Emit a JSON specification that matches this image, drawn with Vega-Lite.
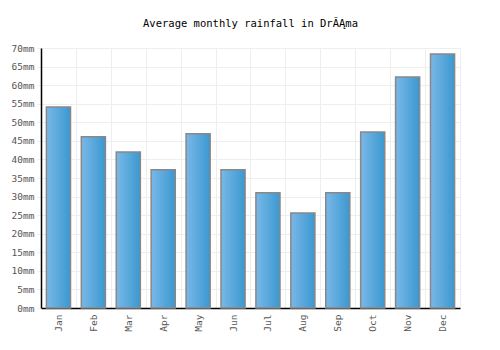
{
  "$schema": "https://vega.github.io/schema/vega-lite/v6.json",
  "width": 419,
  "height": 260,
  "autosize": {"type": "none"},
  "padding": {"left": 41, "top": 48, "right": 40, "bottom": 42},
  "background": "white",
  "title": {"text": "Average monthly rainfall in DrĂĄma", "font": "DejaVu Sans Mono", "fontSize": 10.5, "fontWeight": "normal", "color": "#000", "offset": 14},
  "data": {"values": [
    {"month": "Jan", "rain": 54.1},
    {"month": "Feb", "rain": 46.1},
    {"month": "Mar", "rain": 42.0},
    {"month": "Apr", "rain": 37.2},
    {"month": "May", "rain": 46.9},
    {"month": "Jun", "rain": 37.2},
    {"month": "Jul", "rain": 31.0},
    {"month": "Aug", "rain": 25.6},
    {"month": "Sep", "rain": 31.0},
    {"month": "Oct", "rain": 47.4},
    {"month": "Nov", "rain": 62.2},
    {"month": "Dec", "rain": 68.4}
  ]},
  "mark": {
    "type": "bar",
    "width": {"band": 0.69},
    "stroke": "#888888",
    "strokeWidth": 1.5,
    "fill": {"gradient": "linear", "x1": 0, "x2": 1, "y1": 0, "y2": 0, "stops": [
      {"offset": 0, "color": "#7ab8e8"},
      {"offset": 1, "color": "#3a98d0"}
    ]}
  },
  "encoding": {
    "x": {
      "field": "month", "type": "ordinal", "sort": null,
      "scale": {"paddingInner": 0, "paddingOuter": 0},
      "axis": {
        "title": null, "labelAngle": -90, "tickBand": "extent", "grid": true, "gridColor": "#eeeeee",
        "ticks": false, "domainColor": "#000", "domainWidth": 1.5, "labelPadding": 6,
        "labelFont": "DejaVu Sans Mono", "labelFontSize": 9.5, "labelColor": "#555"
      }
    },
    "y": {
      "field": "rain", "type": "quantitative",
      "scale": {"domain": [0, 70], "nice": false},
      "axis": {
        "title": null, "values": [0, 5, 10, 15, 20, 25, 30, 35, 40, 45, 50, 55, 60, 65, 70],
        "labelExpr": "datum.value + 'mm'", "gridColor": "#eeeeee", "tickColor": "#eeeeee", "tickSize": 4,
        "domainColor": "#000", "domainWidth": 1.5, "labelPadding": 3,
        "labelFont": "DejaVu Sans Mono", "labelFontSize": 9.5, "labelColor": "#555"
      }
    }
  },
  "config": {"view": {"stroke": null}}
}
